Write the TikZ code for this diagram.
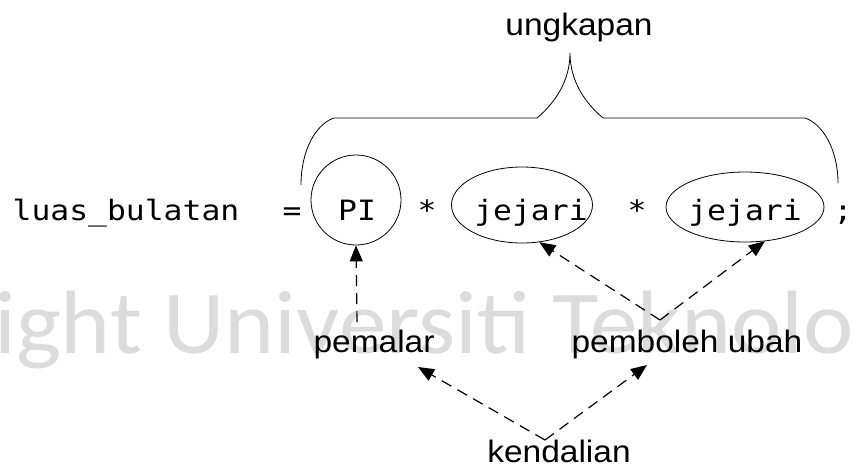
\documentclass[tikz,border=0pt]{standalone}
\usepackage{fontspec}
\setmainfont{Liberation Sans}
\newfontfamily\codefont{DejaVu Sans Mono}
\newfontfamily\wmfont{Carlito}
\usetikzlibrary{arrows.meta,shapes.geometric}
\definecolor{wmgray}{RGB}{220,220,220}
\newcommand{\csx}[1]{\scalebox{1.12}[1]{#1}}
\newcommand{\lsx}[1]{\scalebox{1.08}[1]{#1}}
\tikzset{
  code/.style={font=\codefont\fontsize{28}{28}\selectfont, inner sep=0pt, anchor=base},
  lbl/.style={font=\fontsize{31}{31}\selectfont, inner sep=0pt, anchor=base},
  outline/.style={draw=black, line width=0.8pt},
  dasharrow/.style={line width=1.2pt, dash pattern=on 11pt off 7pt,
    -{Triangle[length=16pt,width=13pt]}},
}
\begin{document}
\begin{tikzpicture}[x=1pt,y=-1pt]
\useasboundingbox (0,0) rectangle (852,467);
\begin{scope}
\clip (0,0) rectangle (852,467);
\node[anchor=base west, inner sep=0pt, text=wmgray,
  font=\wmfont\fontsize{90}{90}\selectfont] (wm) at (-6,353) {\scalebox{1.06}[1]{ight Universiti Teknolo}};
\end{scope}

% code line
\node[code] (lhs) at (126,220) {\csx{luas\_bulatan}};
\node[code] (eq) at (292,220) {\csx{=}};
\node[outline, circle, minimum size=90pt, inner sep=0pt] (pi) at (356,200) {};
\node[code] (pitext) at (357,220) {\csx{PI}};
\node[code] (st1) at (427,220) {\csx{*}};
\node[outline, ellipse, minimum width=141pt, minimum height=76pt, inner sep=0pt] (e1) at (522,205) {};
\node[code] (j1) at (531,220) {\csx{jejari}};
\node[code] (st2) at (637,220) {\csx{*}};
\node[outline, ellipse, minimum width=158pt, minimum height=70pt, inner sep=0pt] (e2) at (745,207) {};
\node[code] (j2) at (745,220) {\csx{jejari}};
\node[code] (semi) at (843,220) {\csx{;}};

% brace
\coordinate (btip) at (570,53);
\draw[outline] (301,185) .. controls (301,150) and (316,124) .. (334,118)
  -- (537,118) .. controls (556,102) and (570,80) .. (btip)
  .. controls (570,80) and (584,102) .. (603,118)
  -- (805,118) .. controls (823,124) and (838,150) .. (838,183);
\node[lbl] (ung) at (579,35) {\lsx{ungkapan}};

% labels
\node[lbl] (pemalar) at (374,352) {\lsx{pemalar}};
\node[lbl] (pemboleh) at (687,352) {\lsx{pemboleh ubah}};
\node[lbl] (kend) at (559,462) {\lsx{kendalian}};

% connector ends
\coordinate (pmtop) at (357,322);
\coordinate (pbtop) at (660,320);
\coordinate (kdtop) at (545,440);
\coordinate (pmbot) at (418,367);
\coordinate (pbbot) at (647,365);

\draw[dasharrow] (pmtop) -- (pi.south);
\draw[dasharrow] (pbtop) -- (e1.-65);
\draw[dasharrow] (pbtop) -- (e2.-60);
\draw[dasharrow] (kdtop) -- (pmbot);
\draw[dasharrow] (kdtop) -- (pbbot);
\end{tikzpicture}
\end{document}
